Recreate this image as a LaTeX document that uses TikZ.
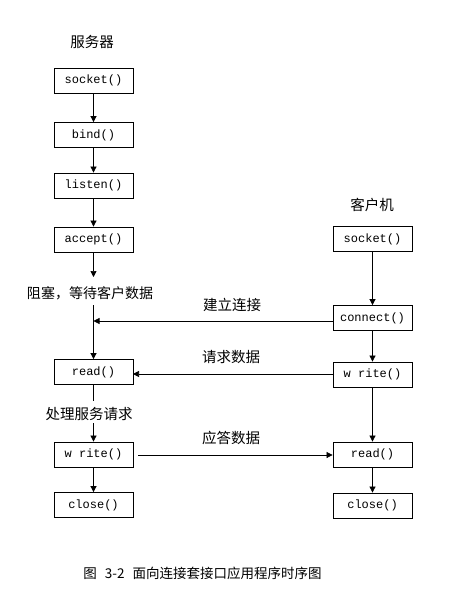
\documentclass[tikz,border=0pt]{standalone}
\usepackage{fontspec}
\setmainfont{Liberation Mono}
\newfontfamily\cjk{Noto Sans CJK SC}
\usetikzlibrary{arrows.meta}
\begin{document}
\begin{tikzpicture}[x=1pt,y=-1pt,
  fn/.style={draw,line width=0.8pt,minimum width=79pt,minimum height=25pt,inner sep=0pt,font=\fontsize{12}{13}\selectfont},
  lbl/.style={font=\cjk\fontsize{14.5}{15}\selectfont,inner sep=0pt},
  arr/.style={-{Triangle[length=6pt,width=6pt]},line width=0.7pt},
  ln/.style={line width=0.7pt}]
\useasboundingbox (0,0) rectangle (454,607);
% server column
\node[lbl] (srv) at (92,42) {服务器};
\node[fn] (ssock) at (93.5,80.5) {socket()};
\node[fn] (sbind) at (93.5,135) {bind()};
\node[fn] (slist) at (93.5,185.5) {listen()};
\node[fn] (sacc) at (93.5,239.5) {accept()};
\node[lbl,font=\cjk\fontsize{14}{15}\selectfont] (block) at (90,293) {阻塞，等待客户数据};
\node[fn] (sread) at (93.5,372) {read()};
\node[lbl] (proc) at (89,414) {处理服务请求};
\node[fn] (swrite) at (93.5,454.5) {w rite()};
\node[fn] (sclose) at (93.5,505) {close()};
% client column
\node[lbl] (cli) at (372,205) {客户机};
\node[fn] (csock) at (372.5,239) {socket()};
\node[fn] (cconn) at (372.5,318) {connect()};
\node[fn] (cwrite) at (372.5,374.5) {w rite()};
\node[fn] (cread) at (372.5,454.5) {read()};
\node[fn] (cclose) at (372.5,505.5) {close()};
% message labels
\node[lbl] (m1) at (232,305) {建立连接};
\node[lbl] (m2) at (231,357) {请求数据};
\node[lbl] (m3) at (231,438) {应答数据};
% caption
\node[font=\cjk\fontsize{13.5}{14}\selectfont,inner sep=0pt] (cap) at (202.5,573) {图\hspace{8pt}3-2\hspace{8pt}面向连接套接口应用程序时序图};
% coordinates
\coordinate (blkTop) at (93.5,277);
\coordinate (blkBot) at (93.5,305);
\coordinate (conTgt) at (93.5,321);
\coordinate (conSrc) at (333,321);
\coordinate (reqSrc) at (333,374);
\coordinate (reqTgt) at (133,374);
\coordinate (prTop) at (93.5,401);
\coordinate (prBot) at (93.5,423);
\coordinate (ansSrc) at (138,455);
% server arrows
\draw[arr] (ssock) -- (sbind);
\draw[arr] (sbind) -- (slist);
\draw[arr] (slist) -- (sacc);
\draw[arr] (sacc) -- (blkTop);
\draw[arr] (blkBot) -- (sread);
\draw[ln] (sread) -- (prTop);
\draw[arr] (prBot) -- (swrite);
\draw[arr] (swrite) -- (sclose);
% client arrows
\draw[arr] (csock) -- (cconn);
\draw[arr] (cconn) -- (cwrite);
\draw[arr] (cwrite) -- (cread);
\draw[arr] (cread) -- (cclose);
% messages
\draw[arr] (conSrc) -- (conTgt);
\draw[arr] (reqSrc) -- (reqTgt);
\draw[arr] (ansSrc) -- (cread.west |- ansSrc);
\end{tikzpicture}
\end{document}
